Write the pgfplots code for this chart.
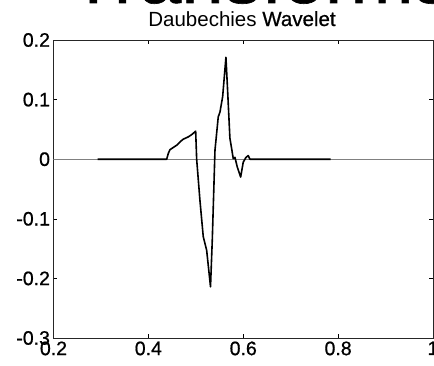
\documentclass[border=0pt]{standalone}
\usepackage{fontspec}
\setmainfont{Liberation Sans}
\newfontfamily\heavyfont{Liberation Sans}[FakeBold=0.8]
\usepackage{pgfplots}
\pgfplotsset{compat=1.18}
\begin{document}
\begin{tikzpicture}
\begin{axis}[
  name=ax, at={(0pt,0pt)}, anchor=south west,
  scale only axis, width=379.5pt, height=298pt,
  xmin=0.2, xmax=1, ymin=-0.3, ymax=0.2,
  xtick={0.2,0.4,0.6,0.8,1}, ytick={-0.3,-0.2,-0.1,0,0.1,0.2},
  tick align=inside, major tick length=4pt,
  tick style={black, line width=0.6pt},
  ticklabel style={font=\heavyfont\fontsize{19.5}{19.5}\selectfont},
  /pgf/number format/assume math mode=true,
  /pgf/number format/fixed,
  axis line style={black!85, line width=0.9pt},
]
\addplot[gray, line width=0.6pt] coordinates {(0.2,0) (1,0)};
\addplot[black, line width=1.6pt, line join=round] coordinates {
(0.293,0) (0.4386,0) (0.442,0.0096) (0.4455,0.016) (0.4525,0.0196) (0.4597,0.0235)
(0.4666,0.029) (0.4736,0.0336) (0.484,0.0374) (0.491,0.041) (0.4997,0.047)
(0.5018,0.0) (0.5087,-0.069) (0.5157,-0.130) (0.5229,-0.153) (0.531,-0.214)
(0.5347,-0.136) (0.5383,-0.041) (0.5404,0.015) (0.5473,0.071) (0.5509,0.079)
(0.5566,0.105) (0.5635,0.171) (0.567,0.116) (0.5719,0.035) (0.5755,0.018)
(0.5789,0.001) (0.5825,0.003) (0.5874,-0.013) (0.5945,-0.030) (0.600,-0.005)
(0.6057,0.003) (0.6105,0.006) (0.6141,0) (0.784,0)
};
\end{axis}
\node[anchor=base, font=\fontsize{20.5}{20.5}\selectfont, inner sep=0pt] at (188.5pt,312pt) {Daubechies {\heavyfont Wavelet}};
\node[anchor=base west, font=\heavyfont\fontsize{76}{76}\selectfont, inner sep=0pt] at (16.5pt,335pt) {Transforms};
\pgfresetboundingbox
\useasboundingbox (-53.5pt,-27pt) rectangle (380.5pt,338pt);
\end{tikzpicture}
\end{document}
